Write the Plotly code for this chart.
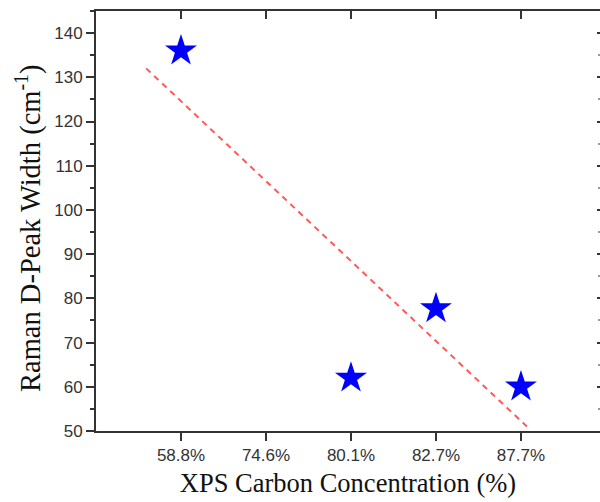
import numpy as np
import plotly.graph_objects as go

# ---- data ----
tick_labels = ["58.8%", "74.6%", "80.1%", "82.7%", "87.7%"]
point_labels = ["58.8%", "80.1%", "82.7%", "87.7%"]
d_peak_width = [136, 62, 77.7, 60]
fit_x_span = [0.59, 5.07]  # extent of the linear fit, in category-position units

# ---- derived positions ----
tick_pos = list(range(1, len(tick_labels) + 1))
pos_of = {lab: p for lab, p in zip(tick_labels, tick_pos)}
px = [pos_of[l] for l in point_labels]
slope, intercept = np.polyfit(px, d_peak_width, 1)
fit_y = [slope * x + intercept for x in fit_x_span]

AX = "#333333"
tickfont = dict(family="Liberation Sans, Arial, sans-serif", size=17, color="#333333")
titlefont_fam = "Liberation Serif, Times New Roman, serif"

x_range = [0, 5.93]
y_range = [50, 145]

fig = go.Figure()
fig.add_trace(go.Scatter(
    x=fit_x_span, y=fit_y, mode="lines",
    line=dict(color="#ff5a5a", width=2, dash="6px,5px"),
    showlegend=False, hoverinfo="skip"))
fig.add_trace(go.Scatter(
    x=px, y=d_peak_width, mode="markers",
    marker=dict(symbol="star", size=24, color="#0000ff", line=dict(width=0)),
    showlegend=False))
# dummy trace to activate mirror axes
fig.add_trace(go.Scatter(x=[None], y=[None], xaxis="x2", yaxis="y2",
                         showlegend=False, hoverinfo="skip"))

fig.update_layout(
    width=600, height=502,
    margin=dict(l=96, r=0, t=11, b=71),
    paper_bgcolor="white", plot_bgcolor="white",
    xaxis=dict(
        range=x_range, tickmode="array", tickvals=tick_pos, ticktext=tick_labels,
        ticks="outside", ticklen=8, tickwidth=2, tickcolor=AX,
        showline=True, linecolor=AX, linewidth=2,
        showgrid=False, zeroline=False, tickfont=tickfont,
        title=dict(text="XPS Carbon Concentration (%)",
                   font=dict(family=titlefont_fam, size=26.5, color="#111111"),
                   standoff=9),
    ),
    xaxis2=dict(
        range=x_range, overlaying="x", side="top", anchor="y",
        tickmode="array", tickvals=tick_pos, ticks="inside", ticklen=8,
        tickwidth=2, tickcolor=AX, showticklabels=False,
        showline=True, linecolor=AX, linewidth=2, showgrid=False, zeroline=False,
    ),
    yaxis=dict(
        range=y_range, tick0=50, dtick=10,
        ticks="outside", ticklen=8, tickwidth=2, tickcolor=AX,
        minor=dict(ticks="outside", ticklen=4, tickwidth=1.5, tickcolor=AX, dtick=5, tick0=50, showgrid=False),
        showline=True, linecolor=AX, linewidth=2,
        showgrid=False, zeroline=False, tickfont=tickfont,
    ),
    yaxis2=dict(
        range=y_range, overlaying="y", side="right", anchor="x",
        tick0=50, dtick=10, ticks="inside", ticklen=3, tickwidth=2, tickcolor=AX,
        minor=dict(ticks="inside", ticklen=2, tickwidth=1.5, tickcolor="#999999", dtick=5, tick0=50),
        showticklabels=False, showline=False, showgrid=False, zeroline=False,
    ),
    annotations=[dict(
        text="Raman D-Peak Width (cm<sup>-1</sup>)",
        xref="paper", yref="paper", x=0, y=0.5,
        xanchor="center", yanchor="middle", xshift=-68, yshift=-7,
        textangle=-90, showarrow=False,
        font=dict(family=titlefont_fam, size=28.5, color="#111111"),
    )],
)

fig.write_html("out.html")
